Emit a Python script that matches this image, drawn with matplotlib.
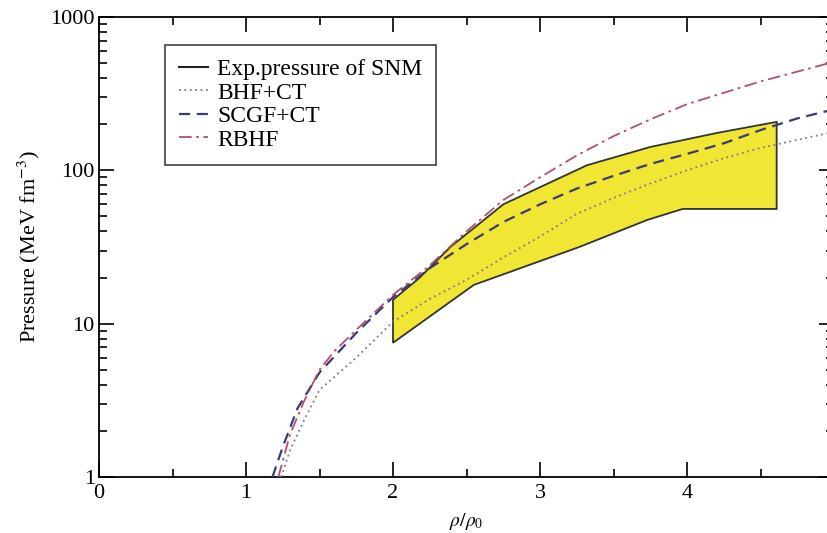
import numpy as np
import matplotlib
matplotlib.use('Agg')
import matplotlib.pyplot as plt
from matplotlib.ticker import MultipleLocator, LogLocator, NullFormatter, FixedLocator

plt.rcParams['font.family'] = ['Liberation Serif', 'DejaVu Serif']
plt.rcParams['mathtext.fontset'] = 'stix'

# experimental band of symmetric nuclear matter pressure
band_up_x = [2.0, 2.18, 2.39, 2.75, 3.32, 3.75, 4.20, 4.61]
band_up_y = [14.3, 19.9, 31.6, 60.0, 108, 142, 175, 207]
band_lo_x = [2.0, 2.55, 3.27, 3.73, 3.97, 4.61]
band_lo_y = [7.5, 17.9, 31.7, 47.5, 56, 56]

# BHF+CT
bhf_x = [1.24, 1.3, 1.4, 1.5, 1.75, 2.0, 2.25, 2.5, 2.75, 3.0, 3.25, 3.5, 3.75, 4.0, 4.25, 4.5, 4.75, 5.0]
bhf_y = [1.0, 1.5, 2.4, 3.7, 6.0, 10.3, 14.5, 19.3, 27, 37, 52, 66, 82, 100, 120, 140, 158, 178]

# SCGF+CT
scgf_x = [1.18, 1.25, 1.35, 1.5, 1.75, 2.0, 2.25, 2.5, 2.75, 3.0, 3.25, 3.5, 3.75, 4.0, 4.25, 4.5, 4.75, 5.0]
scgf_y = [1.0, 1.57, 2.8, 4.8, 8.7, 14.9, 23, 33, 46, 60, 76, 92, 110, 128, 150, 183, 218, 250]

# RBHF
rbhf_x = [1.22, 1.3, 1.4, 1.5, 1.6, 1.75, 2.0, 2.25, 2.5, 2.75, 3.0, 3.25, 3.5, 3.75, 4.0, 4.5, 5.0]
rbhf_y = [1.0, 1.9, 3.2, 5.0, 6.6, 9.1, 15.4, 24, 40, 64, 90, 125, 167, 215, 270, 380, 510]

x_ticks = [0, 1, 2, 3, 4]
y_ticks = [1, 10, 100, 1000]
y_tick_labels = ['1', '10', '100', '1000']

fig = plt.figure(figsize=(8.27, 5.33), dpi=100)
ax = fig.add_axes([99 / 827, 56 / 533, 735 / 827, 460 / 533])

poly_x = band_up_x + band_lo_x[::-1]
poly_y = band_up_y + band_lo_y[::-1]
ax.fill(poly_x, poly_y, facecolor='#f0e633', edgecolor='#333333', linewidth=1.3, zorder=1)

ax.plot([], [], color='#222222', lw=1.5, ls='-', label='Exp.pressure of SNM')
ax.plot(bhf_x, bhf_y, color='#8a7090', lw=1.3, ls=(0, (1, 2)), label='BHF+CT', zorder=3)
ax.plot(scgf_x, scgf_y, color='#3a3a78', lw=1.6, ls=(0, (5, 3)), label='SCGF+CT', zorder=3)
ax.plot(rbhf_x, rbhf_y, color='#b0506e', lw=1.3, ls=(0, (7, 2.5, 1.5, 2.5)), label='RBHF', zorder=3)

ax.set_yscale('log')
ax.set_xlim(0, 5)
ax.set_ylim(1, 1000)

ax.set_xticks(x_ticks)
ax.xaxis.set_minor_locator(MultipleLocator(0.5))
ax.yaxis.set_major_locator(FixedLocator(y_ticks))
ax.yaxis.set_minor_locator(LogLocator(base=10, subs=np.arange(2, 10)))
ax.yaxis.set_minor_formatter(NullFormatter())
ax.set_yticklabels(y_tick_labels)

ax.tick_params(which='both', direction='in', top=True, right=True, labelsize=16, width=1.2)
ax.tick_params(which='major', length=11)
ax.tick_params(which='minor', length=6)
ax.tick_params(axis='x', pad=5)
ax.tick_params(axis='y', pad=3)
for s in ax.spines.values():
    s.set_linewidth(1.3)

ax.set_xlabel(r'$\rho/\rho_0$', fontsize=14, labelpad=6)
ax.set_ylabel(r'Pressure (MeV fm$^{-3}$)', fontsize=16, labelpad=6)

leg = ax.legend(loc='upper left', bbox_to_anchor=(0.09, 0.94), borderaxespad=0,
                fontsize=17, fancybox=False, frameon=True, handlelength=1.2,
                handletextpad=0.4, labelspacing=0.08, borderpad=0.6)
leg.get_frame().set_edgecolor('#222222')
leg.get_frame().set_linewidth(1.3)

fig.savefig('out.png', dpi=100)
